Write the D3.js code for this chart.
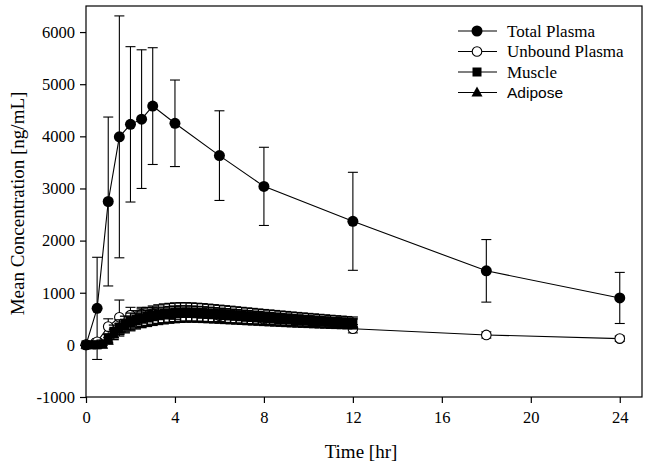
<!DOCTYPE html>
<html><head><meta charset="utf-8">
<script src="https://cdn.jsdelivr.net/npm/d3@7"></script>
<style>body{margin:0;background:#fff}svg{display:block}</style>
</head><body>
<svg id="c" width="649" height="468"></svg>
<script>
const totalTime = [0,0.5,1,1.5,2,2.5,3,4,6,8,12,18,24];
const totalMean = [0,700,2750,3990,4230,4330,4580,4250,3630,3040,2370,1420,900];
const totalSD   = [0,980,1620,2320,1490,1330,1120,830,860,750,940,600,490];

const unboundTime = [0,0.5,1,1.5,2,2.5,3,4,6,8,12,18,24];
const unboundMean = [0,60,350,530,570,590,600,610,560,490,310,190,120];
const unboundSD   = [0,60,150,330,150,130,120,120,110,100,80,60,50];

const tissueTime = [0,0.25,0.5,0.75,1,1.25,1.5,1.75,2,2.25,2.5,2.75,3,3.25,3.5,3.75,4,4.25,4.5,4.75,5,5.25,5.5,5.75,6,6.25,6.5,6.75,7,7.25,7.5,7.75,8,8.25,8.5,8.75,9,9.25,9.5,9.75,10,10.25,10.5,10.75,11,11.25,11.5,11.75,12];
const muscleMean = [0,0,0,20,130,260,340,400,450,490,520,545,570,590,605,615,625,630,632,630,625,620,612,605,598,590,582,574,566,558,550,542,535,528,520,513,506,499,492,485,478,471,464,457,450,444,438,432,426];
const muscleSD   = [0,0,0,30,80,120,140,150,160,165,170,172,175,178,180,180,180,178,176,174,172,170,168,165,162,160,158,155,152,150,148,145,142,140,138,135,133,130,128,126,124,122,120,118,116,114,112,110,108];
const adiposeMean = [0,0,0,0,80,200,290,360,410,450,480,505,528,548,563,575,585,590,592,590,586,580,574,567,560,552,545,537,530,522,515,508,500,493,486,479,472,465,458,452,446,440,434,428,422,417,412,407,402];
const adiposeSD   = [0,0,0,0,60,100,120,130,140,145,150,152,155,158,160,160,160,158,156,154,152,150,148,146,144,142,140,138,136,134,132,130,128,126,124,122,120,118,116,114,112,110,108,106,104,102,100,98,96];

const xTicks = [0,4,8,12,16,20,24];
const yTicks = [-1000,0,1000,2000,3000,4000,5000,6000];
const legendLabels = ["Total Plasma","Unbound Plasma","Muscle","Adipose"];

const svg = d3.select("#c");
const L=86,R=642,T=6,B=397;
const x = d3.scaleLinear().domain([0,25]).range([L,R]);
const y = d3.scaleLinear().domain([-1000,6500]).range([B,T]);
const serif = "'Liberation Serif','Times New Roman',serif";
const sans = "'Liberation Sans',Arial,sans-serif";

svg.append("rect").attr("x",L).attr("y",T).attr("width",R-L).attr("height",B-T)
  .attr("fill","none").attr("stroke","#000").attr("stroke-width",1.2);

const xa = svg.append("g").attr("transform",`translate(0,${B})`)
  .call(d3.axisBottom(x).tickValues(xTicks).tickSize(6).tickPadding(8).tickFormat(d=>String(d)));
const ya = svg.append("g").attr("transform",`translate(${L},0)`)
  .call(d3.axisLeft(y).tickValues(yTicks).tickSize(6).tickPadding(5).tickFormat(d=>String(d)));
[xa,ya].forEach(a=>{
  a.select(".domain").remove();
  a.selectAll("line").attr("stroke","#000").attr("stroke-width",1.2);
  a.selectAll("text").attr("font-family",serif).attr("font-size",16.5).attr("fill","#000");
});

svg.append("text").attr("x",(L+R)/2-3).attr("y",458).attr("text-anchor","middle")
  .attr("font-family",serif).attr("font-size",19).text("Time [hr]");
svg.append("text").attr("transform",`translate(24,${(T+B)/2+2}) rotate(-90)`).attr("text-anchor","middle")
  .attr("font-family",serif).attr("font-size",19).text("Mean Concentration [ng/mL]");

const g = svg.append("g");
function errBars(t,m,s,cap,w){
  t.forEach((tt,i)=>{
    if(!s[i]) return;
    const xx=x(tt), y1=y(m[i]+s[i]), y2=y(m[i]-s[i]);
    g.append("line").attr("x1",xx).attr("x2",xx).attr("y1",y1).attr("y2",y2).attr("stroke","#000").attr("stroke-width",w);
    [y1,y2].forEach(yy=>g.append("line").attr("x1",xx-cap).attr("x2",xx+cap).attr("y1",yy).attr("y2",yy).attr("stroke","#000").attr("stroke-width",w));
  });
}
function line(t,m){
  g.append("path").attr("d",d3.line().x((d,i)=>x(t[i])).y(d=>y(d))(m))
    .attr("fill","none").attr("stroke","#000").attr("stroke-width",1.1);
}
function marker(sel,type){
  if(type===0) sel.append("circle").attr("r",5.5).attr("fill","#000");
  else if(type===1) sel.append("circle").attr("r",4.8).attr("fill","#fff").attr("stroke","#000").attr("stroke-width",1.1);
  else if(type===2) sel.append("rect").attr("x",-4.5).attr("y",-4.5).attr("width",9).attr("height",9).attr("fill","#000");
  else sel.append("path").attr("d","M0,-6L5.5,4L-5.5,4Z").attr("fill","#000");
}
function points(t,m,type){
  t.forEach((tt,i)=>{ marker(g.append("g").attr("transform",`translate(${x(tt)},${y(m[i])})`),type); });
}

errBars(totalTime,totalMean,totalSD,5,1.1);
line(totalTime,totalMean);
points(totalTime,totalMean,0);
errBars(unboundTime,unboundMean,unboundSD,5,1.1);
line(unboundTime,unboundMean);
points(unboundTime,unboundMean,1);
errBars(tissueTime,muscleMean,muscleSD,5,1.3);
line(tissueTime,muscleMean);
points(tissueTime,muscleMean,2);
errBars(tissueTime,adiposeMean,adiposeSD,5,1.3);
line(tissueTime,adiposeMean);
points(tissueTime,adiposeMean,3);

const lg = svg.append("g");
legendLabels.forEach((lab,i)=>{
  const yy = 31 + i*20.5;
  lg.append("line").attr("x1",458).attr("x2",497).attr("y1",yy).attr("y2",yy).attr("stroke","#000").attr("stroke-width",1.1);
  marker(lg.append("g").attr("transform",`translate(477,${yy})`),i);
  lg.append("text").attr("x",507).attr("y",yy+5.5).attr("font-family",i===3?sans:serif)
    .attr("font-size",i===3?15.5:17).text(lab);
});
</script>
</body></html>
